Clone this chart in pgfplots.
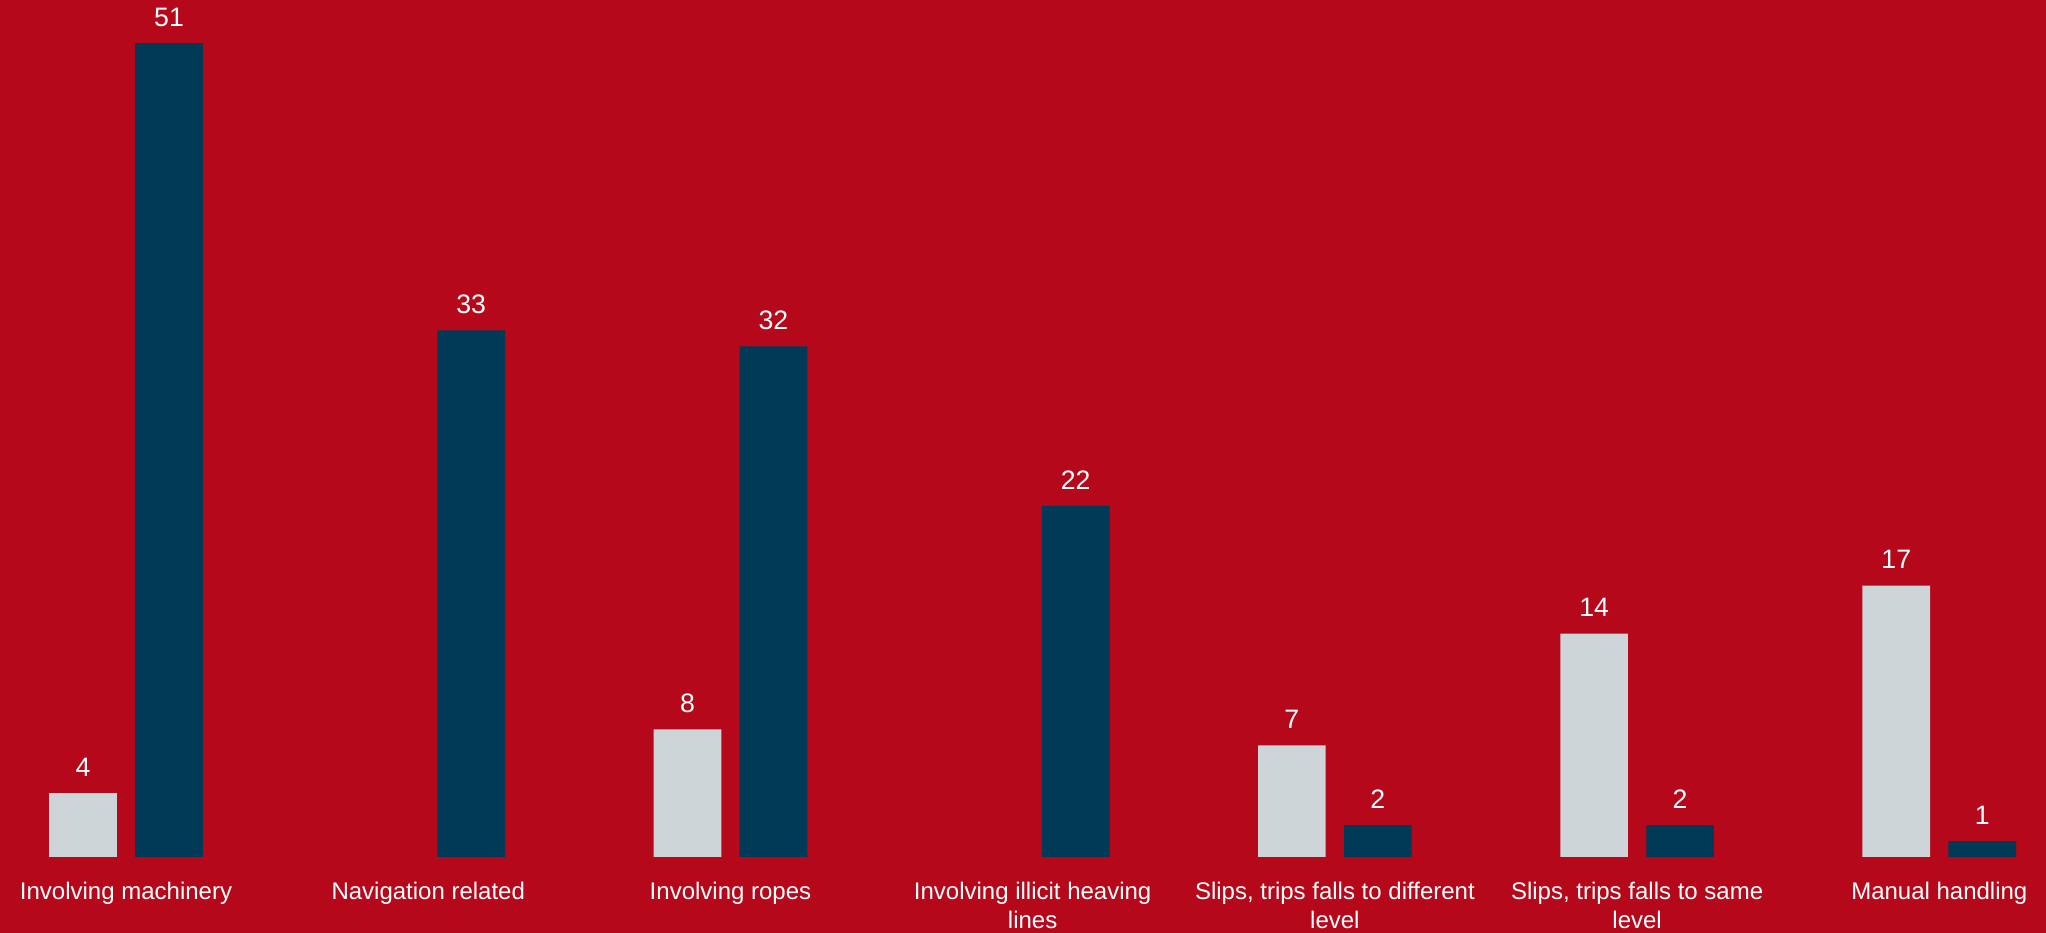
\documentclass[border=0pt]{standalone}
\usepackage{pgfplots}
\pgfplotsset{compat=1.18}
\usepackage{fontspec}
\setmainfont{Liberation Sans}
\definecolor{bgred}{RGB}{181,8,26}
\definecolor{barblue}{RGB}{0,58,87}
\definecolor{bargrey}{RGB}{205,213,216}
\begin{document}
\begin{tikzpicture}
\fill[bgred] (0,0) rectangle (613.8pt,279.9pt);
\useasboundingbox (0,0) rectangle (613.8pt,279.9pt);
\begin{axis}[
  at={(0pt,22.8pt)}, anchor=south west,
  scale only axis,
  width=613.8pt, height=257.1pt,
  xmin=-0.417, xmax=6.353,
  ymin=0, ymax=53.7,
  axis x line*=bottom,
  hide y axis,
  x axis line style={draw=none},
  major tick length=0pt,
  clip=false,
  xtick={0,1,2,3,4,5,6},
  xticklabels={Involving machinery,Navigation related,Involving ropes,Involving illicit heaving\\lines,{Slips, trips falls to different\\level},{Slips, trips falls to same\\level},Manual handling},
  xticklabel style={text=white, font=\fontsize{7.2}{8.6}\selectfont, align=center, anchor=north, inner sep=0pt, yshift=-7.3pt},
  ytick=\empty,
  ybar, bar width=20.3pt,
  /pgf/number format/assume math mode=true,
  nodes near coords,
  every node near coord/.append style={text=white, font=\fontsize{8}{9}\selectfont, anchor=center, yshift=7.8pt},
]
\addplot[draw=none, fill=bargrey, bar shift=-12.9pt] coordinates {(0,4) (2,8) (4,7) (5,14) (6,17)};
\addplot[draw=none, fill=barblue, bar shift=12.9pt] coordinates {(0,51) (1,33) (2,32) (3,22) (4,2) (5,2) (6,1)};
\end{axis}
\end{tikzpicture}
\end{document}
